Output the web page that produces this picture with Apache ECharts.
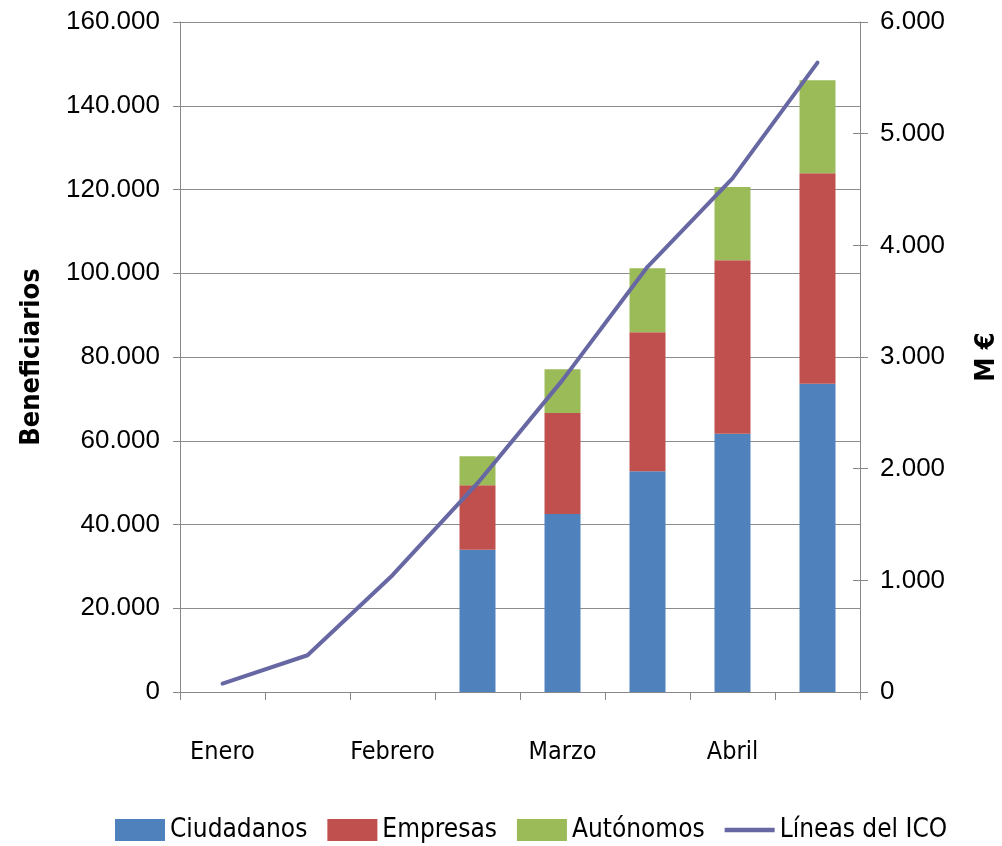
<!DOCTYPE html>
<html>
<head>
<meta charset="utf-8">
<script src="https://cdn.jsdelivr.net/npm/echarts@6/dist/echarts.min.js"></script>
<style>
html,body{margin:0;padding:0;background:#fff;overflow:hidden;}
#c{width:1002px;height:846px;}
</style>
</head>
<body>
<div id="c"></div>
<script>
const categories = ['Enero', '', 'Febrero', '', 'Marzo', '', 'Abril', ''];
const ciudadanos = [null, null, null, 34000, 42500, 52700, 61700, 73600];
const empresas   = [null, null, null, 15400, 24100, 33200, 41400, 50300];
const autonomos  = [null, null, null, 6900, 10500, 15300, 17500, 22200];
const lineasICO  = [75, 329, 1046, 1870, 2793, 3808, 4600, 5636];

const narrow = '"Liberation Sans Narrow", "DejaVu Sans Condensed", "Liberation Sans", sans-serif';
const regular = '"Liberation Sans", Arial, sans-serif';
const fmt = v => String(v).replace(/\B(?=(\d{3})+(?!\d))/g, '.');

const chart = echarts.init(document.getElementById('c'), null, { width: 1002, height: 846 });
chart.setOption({
  animation: false,
  backgroundColor: '#fff',
  grid: { left: 180, right: 142, top: 22, bottom: 154, containLabel: false, outerBoundsMode: 'none' },
  legend: {
    bottom: -2, left: 110,
    itemWidth: 50, itemHeight: 22, itemGap: 20,
    textStyle: { fontFamily: narrow, fontSize: 26, color: '#000' },
    data: [
      { name: 'Ciudadanos', icon: 'rect' },
      { name: 'Empresas', icon: 'rect' },
      { name: 'Autónomos', icon: 'rect' },
      { name: 'Líneas del ICO', icon: 'path://M0,0 H100 V9 H0 Z' }
    ]
  },
  xAxis: {
    type: 'category',
    data: categories,
    boundaryGap: true,
    axisLine: { lineStyle: { color: '#888', width: 1 } },
    axisTick: { show: true, length: 8, lineStyle: { color: '#888' }, interval: 0 },
    axisLabel: { interval: 0, margin: 48, fontFamily: narrow, fontSize: 25, color: '#000' }
  },
  yAxis: [
    {
      type: 'value', min: 0, max: 160000, interval: 20000,
      name: 'Beneficiarios', nameLocation: 'middle', nameGap: 135, nameRotate: 90,
      nameTextStyle: { fontFamily: narrow, fontSize: 27, fontWeight: 'bold', color: '#000' },
      axisLine: { show: true, lineStyle: { color: '#888' } },
      axisTick: { show: true, length: 7, lineStyle: { color: '#888' } },
      axisLabel: { margin: 20, fontFamily: regular, fontSize: 26, color: '#000', formatter: fmt },
      splitLine: { show: true, lineStyle: { color: '#8c8c8c', width: 1 } }
    },
    {
      type: 'value', min: 0, max: 6000, interval: 1000, position: 'right',
      name: 'M €', nameLocation: 'middle', nameGap: 113, nameRotate: 90,
      nameTextStyle: { fontFamily: narrow, fontSize: 27, fontWeight: 'bold', color: '#000' },
      axisLine: { show: true, lineStyle: { color: '#888' } },
      axisTick: { show: true, length: 8, lineStyle: { color: '#888' } },
      axisLabel: { margin: 20, fontFamily: regular, fontSize: 26, color: '#000', formatter: fmt },
      splitLine: { show: false }
    },
    {
      type: 'value', min: 0, max: 6000, interval: 1000, position: 'right', offset: 0,
      axisLine: { show: false },
      axisTick: { show: true, inside: true, length: 7, lineStyle: { color: '#888' } },
      axisLabel: { show: false },
      splitLine: { show: false }
    }
  ],
  series: [
    { name: 'Ciudadanos', type: 'bar', stack: 'b', barWidth: 36, data: ciudadanos, itemStyle: { color: '#4F81BD' } },
    { name: 'Empresas', type: 'bar', stack: 'b', barWidth: 36, data: empresas, itemStyle: { color: '#C0504D' } },
    { name: 'Autónomos', type: 'bar', stack: 'b', barWidth: 36, data: autonomos, itemStyle: { color: '#9BBB59' } },
    { name: 'Líneas del ICO', type: 'line', yAxisIndex: 1, data: lineasICO, symbol: 'none', smooth: false, z: 5,
      lineStyle: { color: '#6767A3', width: 4, cap: 'round', join: 'round' }, itemStyle: { color: '#6767A3' } }
  ]
});
</script>
</body>
</html>
